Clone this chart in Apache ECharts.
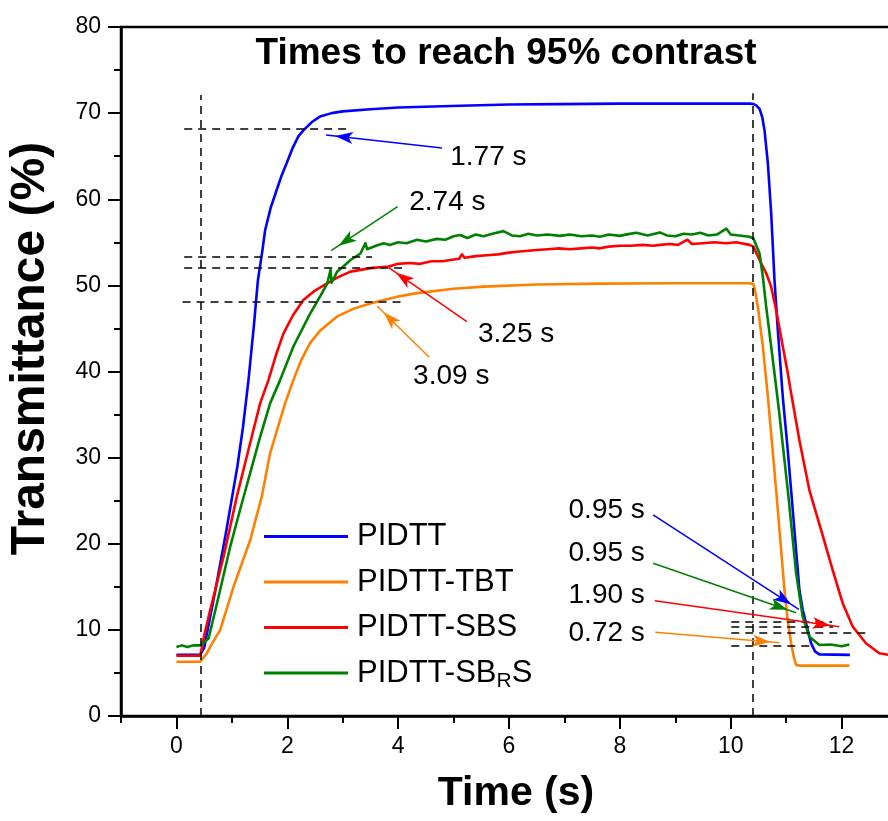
<!DOCTYPE html>
<html><head><meta charset="utf-8">
<script src="https://cdn.jsdelivr.net/npm/echarts@6/dist/echarts.min.js"></script>
<style>html,body{margin:0;padding:0;background:#fff}#c{width:888px;height:821px}</style>
</head><body><div id="c"></div>
<script>
const FONT = '"Liberation Sans", Arial, Helvetica, sans-serif';
const seriesNames = ['PIDTT', 'PIDTT-TBT', 'PIDTT-SBS', 'PIDTT-SBRS'];
const seriesColors = ['#0000ff', '#ff8000', '#ff0000', '#008000'];

// [time (s), transmittance (%)]
const pidtt = [[0,7.1],[0.2,7.1],[0.43,7.1],[0.5,7.9],[0.7,14.5],[0.9,21.5],[1.1,29.0],[1.2,33.5],[1.3,39.0],[1.4,45.5],[1.47,50.6],[1.55,54.0],[1.6,56.4],[1.7,59.0],[1.81,61.1],[1.9,62.8],[1.99,64.2],[2.1,66.0],[2.2,67.3],[2.29,68.0],[2.45,69.0],[2.59,69.6],[2.8,70.0],[3.0,70.2],[3.5,70.45],[4.0,70.65],[5.12,70.85],[6.0,71.0],[6.92,71.05],[8.0,71.1],[9.0,71.1],[10.34,71.1],[10.41,71.05],[10.46,70.9],[10.52,70.5],[10.57,69.5],[10.61,68.0],[10.67,64.2],[10.73,58.4],[10.79,50.6],[10.85,44.8],[10.94,37.0],[11.02,31.5],[11.09,26.2],[11.17,20.0],[11.24,14.6],[11.30,12.3],[11.36,10.76],[11.45,8.44],[11.52,7.5],[11.6,7.15],[12.15,7.1]];
const pidttTbt = [[0,6.3],[0.43,6.3],[0.55,7.3],[0.61,8.05],[0.79,10.0],[1.03,15.0],[1.33,20.4],[1.54,25.5],[1.69,30.5],[1.96,36.3],[2.11,39.0],[2.25,41.3],[2.41,43.3],[2.6,44.8],[2.9,46.4],[3.2,47.3],[3.5,47.9],[3.62,48.1],[4.0,48.7],[4.34,49.1],[5.0,49.6],[5.54,49.85],[6.5,50.1],[7.64,50.2],[9.0,50.25],[10.34,50.25],[10.41,50.15],[10.45,49.0],[10.49,47.5],[10.58,42.9],[10.67,37.1],[10.82,26.2],[10.97,14.6],[11.03,11.0],[11.09,8.44],[11.14,6.8],[11.18,5.92],[11.25,5.85],[12.14,5.85]];
const pidttSbs = [[0,7.0],[0.43,7.0],[0.5,9.3],[0.61,12.3],[0.85,18.5],[1.09,25.5],[1.33,31.7],[1.51,36.3],[1.66,39.0],[1.8,42.0],[1.93,44.4],[2.1,46.5],[2.29,48.3],[2.5,49.4],[2.72,50.24],[2.9,50.9],[3.14,51.6],[3.5,52.0],[3.83,52.2],[4.0,52.5],[4.2,52.6],[4.4,52.5],[4.6,52.8],[4.8,52.8],[4.94,52.95],[5.1,53.1],[5.15,53.6],[5.2,53.2],[5.4,53.4],[5.6,53.5],[5.8,53.6],[6.0,53.8],[6.14,53.9],[6.3,54.0],[6.5,54.1],[6.7,54.2],[6.9,54.3],[7.1,54.2],[7.3,54.3],[7.5,54.4],[7.64,54.3],[7.8,54.5],[8.0,54.6],[8.2,54.6],[8.4,54.7],[8.6,54.6],[8.72,54.7],[8.9,54.8],[9.05,54.7],[9.22,55.3],[9.3,54.8],[9.5,54.9],[9.7,55.0],[9.92,54.9],[10.1,55.0],[10.34,54.7],[10.41,54.5],[10.52,52.95],[10.64,51.4],[10.73,49.85],[10.82,47.1],[10.94,42.9],[11.03,39.8],[11.08,37.85],[11.24,32.0],[11.42,26.2],[11.63,21.6],[11.84,16.95],[12.02,13.1],[12.2,10.4],[12.44,8.44],[12.68,7.28],[12.85,7.1],[13,7.1]];
const pidttSbrs = [[0,8.0],[0.1,8.2],[0.2,8.0],[0.3,8.2],[0.43,8.2],[0.58,9.0],[0.76,13.85],[0.97,19.66],[1.18,24.7],[1.36,28.9],[1.51,32.4],[1.69,36.3],[1.87,39.0],[2.11,42.9],[2.41,46.7],[2.6,48.8],[2.72,50.2],[2.78,51.8],[2.8,50.3],[2.9,51.6],[3.01,52.2],[3.14,52.95],[3.32,53.7],[3.41,54.9],[3.44,54.2],[3.6,54.6],[3.74,54.9],[3.85,54.7],[4.0,55.0],[4.15,54.9],[4.34,55.3],[4.5,55.1],[4.7,55.4],[4.85,55.3],[5.0,55.7],[5.12,55.85],[5.25,55.5],[5.4,55.9],[5.54,55.7],[5.7,56.0],[5.9,56.3],[6.05,55.8],[6.2,55.7],[6.35,56.0],[6.5,55.8],[6.7,55.9],[6.92,55.75],[7.1,55.9],[7.3,55.7],[7.5,55.8],[7.64,55.65],[7.8,55.9],[8.0,55.75],[8.15,55.95],[8.3,56.1],[8.5,55.8],[8.72,56.15],[8.85,55.8],[9.0,55.7],[9.15,56.0],[9.3,55.9],[9.45,56.1],[9.6,55.8],[9.75,55.9],[9.92,56.6],[10.0,55.9],[10.15,55.8],[10.34,55.65],[10.41,55.45],[10.52,53.7],[10.58,51.0],[10.64,47.5],[10.73,42.9],[10.82,38.2],[10.87,35.5],[11.03,26.2],[11.18,16.6],[11.30,11.5],[11.42,9.2],[11.6,8.24],[11.8,8.3],[12.0,8.1],[12.14,8.3]];
const seriesData = [pidtt, pidttTbt, pidttSbs, pidttSbrs];

const xLabelTicks = [0, 2, 4, 6, 8, 10, 12];
const xMinorTicks = [-1, 1, 3, 5, 7, 9, 11, 13];

// dashed guides: vertical [x, topY]; horizontal [y, x1, x2]
const vGuides = [[0.43, 72.1], [10.40, 72.3]];
const hGuides = [[68.2,0.14,3.15],[53.3,0.14,3.53],[52.1,0.14,4.07],[48.07,0.11,4.07],[10.95,10.01,11.83],[10.37,10.01,11.85],[9.72,10.01,12.51],[8.13,10.01,11.49]];

// annotations
const annoText = ['1.77 s','2.74 s','3.25 s','3.09 s','0.95 s','0.95 s','1.90 s','0.72 s'];
const annoColor = ['#0000ff','#008000','#ff0000','#ff8000','#0000ff','#008000','#ff0000','#ff8000'];
const annoTextPos = [[4.94,64.9],[4.20,59.6],[5.44,44.37],[4.27,39.4],[8.45,23.92],[8.45,18.93],[8.45,14.05],[8.45,9.6]];
const annoArrowFrom = [[4.79,65.95],[3.99,59.14],[5.24,45.78],[4.56,41.65],[8.60,23.34],[8.60,17.73],[8.63,13.39],[8.64,9.72]];
const annoArrowTo = [[2.70,67.46],[2.79,54.03],[3.83,52.05],[3.62,47.6],[11.23,12.39],[11.18,11.99],[11.96,10.37],[10.88,8.51]];

const chart = echarts.init(document.getElementById('c'), null, {renderer: 'canvas'});

const gridRect = {left: 121, right: -9, top: 27, bottom: 105};
const tickStyle = {color: '#000', width: 2};

const series = seriesNames.map((n, i) => ({
  name: n, type: 'line', xAxisIndex: 0, yAxisIndex: 0,
  data: seriesData[i], showSymbol: false, symbol: 'none',
  lineStyle: {color: seriesColors[i], width: 2.6, join: 'round'}, itemStyle: {color: seriesColors[i]},
  z: 3, animation: false
}));

series.push({
  name: 'guides', type: 'line', xAxisIndex: 0, yAxisIndex: 0, data: [],
  markLine: {
    silent: true, symbol: ['none', 'none'], animation: false,
    label: {show: false},
    lineStyle: {color: '#000', width: 1.5, type: [8, 6]},
    data: vGuides.map(g => [{coord: [g[0], 0]}, {coord: [g[0], g[1]]}])
      .concat(hGuides.map(g => [{coord: [g[1], g[0]]}, {coord: [g[2], g[0]]}]))
  },
  z: 2
});

series.push({
  name: 'annotations', type: 'scatter', xAxisIndex: 0, yAxisIndex: 0,
  symbolSize: 0, itemStyle: {color: '#000', opacity: 1}, silent: true, animation: false,
  label: {show: true, formatter: '{b}', distance: 0, fontSize: 28, color: '#000',
    fontFamily: FONT, textBorderWidth: 0, opacity: 1},
  labelLayout: {hideOverlap: false},
  data: annoText.map((t, i) => ({
    name: t, value: annoTextPos[i],
    label: {position: i < 4 ? 'right' : 'left'}
  })),
  markLine: {
    silent: true, animation: false,
    symbol: ['none', 'arrow'],
    label: {show: false},
    data: annoArrowFrom.map((f, i) => [
      {coord: f, symbol: 'none', lineStyle: {color: annoColor[i], width: 1.5, type: 'solid'}, itemStyle: {color: annoColor[i]}},
      {coord: annoArrowTo[i], symbol: 'arrow', symbolSize: [9, 18], symbolOffset: [0, 9], itemStyle: {color: annoColor[i]}}
    ])
  },
  z: 4
});

chart.setOption({
  backgroundColor: '#fff',
  animation: false,
  textStyle: {fontFamily: FONT},
  title: {
    text: 'Times to reach 95% contrast', left: 501, top: 30, textAlign: 'center',
    textStyle: {fontSize: 37, fontWeight: 'bold', color: '#000', fontFamily: FONT}
  },
  legend: {
    orient: 'vertical', left: 264, top: 521, padding: 0, data: seriesNames,
    icon: 'rect', itemWidth: 84, itemHeight: 3, itemGap: 14.5,
    formatter: n => n === 'PIDTT-SBRS' ? '{a|PIDTT-SB}{s|R}{a|S}' : '{a|' + n + '}',
    textStyle: {
      padding: [0, 0, 0, 4],
      rich: {
        a: {fontSize: 31, lineHeight: 38, color: '#000', fontFamily: FONT},
        s: {fontSize: 21, lineHeight: 14, verticalAlign: 'bottom', color: '#000', fontFamily: FONT}
      }
    }
  },
  grid: [
    Object.assign({show: true, borderColor: '#000', borderWidth: 2.5, backgroundColor: 'transparent', containLabel: false, outerBoundsMode: 'none'}, gridRect),
    Object.assign({show: false, containLabel: false, outerBoundsMode: 'none'}, gridRect)
  ],
  xAxis: [
    {
      type: 'value', gridIndex: 0, min: -1, max: 13, position: 'bottom',
      axisLine: {show: true, onZero: false, lineStyle: {color: '#000', width: 2.5}},
      axisTick: {show: true, length: 7, lineStyle: tickStyle, customValues: xMinorTicks},
      axisLabel: {show: true, customValues: xLabelTicks, fontSize: 23, color: '#000', margin: 19, fontFamily: FONT},
      splitLine: {show: false},
      name: 'Time (s)', nameLocation: 'middle', nameGap: 57,
      nameTextStyle: {fontSize: 41, fontWeight: 'bold', color: '#000', fontFamily: FONT, padding: [0, 0, 0, 14]}
    },
    {
      type: 'value', gridIndex: 1, min: -1, max: 13, position: 'bottom',
      axisLine: {show: false, onZero: false},
      axisTick: {show: true, length: 13, lineStyle: tickStyle, customValues: xLabelTicks},
      axisLabel: {show: false}, splitLine: {show: false}
    }
  ],
  yAxis: [
    {
      type: 'value', gridIndex: 0, min: 0, max: 80, interval: 10,
      axisLine: {show: true, onZero: false, lineStyle: {color: '#000', width: 2.5}},
      axisTick: {show: true, length: 13, lineStyle: tickStyle},
      minorTick: {show: true, splitNumber: 2, length: 7, lineStyle: tickStyle},
      axisLabel: {fontSize: 23, color: '#000', margin: 20, fontFamily: FONT},
      splitLine: {show: false},
      name: 'Transmittance (%)', nameLocation: 'middle', nameGap: 66,
      nameTextStyle: {fontSize: 48, fontWeight: 'bold', color: '#000', fontFamily: FONT, padding: [0, 0, 0, 46]}
    },
    {type: 'value', gridIndex: 1, min: 0, max: 80, show: false}
  ],
  series: series
});
</script></body></html>
